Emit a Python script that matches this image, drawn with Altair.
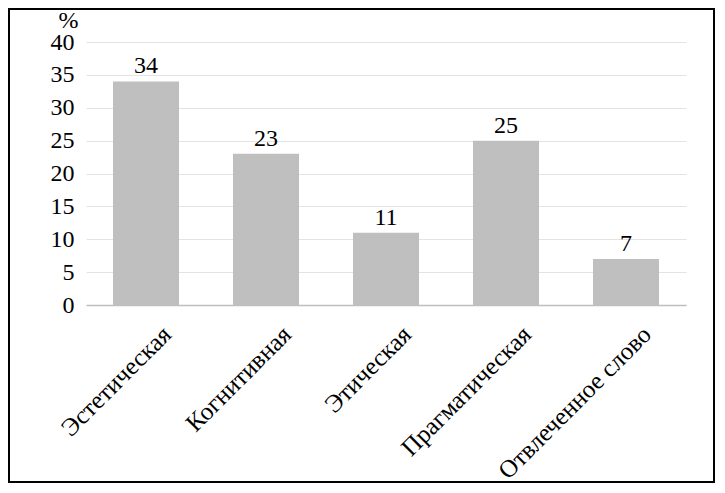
import altair as alt
import pandas as pd

categories = ["Эстетическая", "Когнитивная", "Этическая", "Прагматическая", "Отвлеченное слово"]
values = [34, 23, 11, 25, 7]
y_ticks = [0, 5, 10, 15, 20, 25, 30, 35, 40]

df = pd.DataFrame({"cat": categories, "val": values})
FONT = "Liberation Serif"
FS = 24

W, H = 600, 263
PL, PT, PR, PB = 78, 34, 29, 178

base = alt.Chart(df).encode(
    x=alt.X("cat:N", sort=categories, title=None,
            scale=alt.Scale(paddingInner=0.45, paddingOuter=0.225),
            axis=alt.Axis(labelAngle=-45, labelAlign="right", labelBaseline="middle",
                          labelPadding=25, labelOffset=21, ticks=False,
                          domainColor="#bfbfbf", domainWidth=1.5, labelLimit=400,
                          labelOverlap=False, grid=False,
                          labelFont=FONT, labelFontSize=25, labelColor="black")),
    y=alt.Y("val:Q", scale=alt.Scale(domain=[0, 40]), title="%",
            axis=alt.Axis(values=y_ticks, ticks=False, domain=False,
                          labelPadding=12, gridColor="#e3e3e3", gridWidth=1,
                          labelOverlap=False,
                          labelFont=FONT, labelFontSize=FS, labelColor="black",
                          titleFont=FONT, titleFontSize=FS, titleFontWeight="normal",
                          titleColor="black",
                          titleAngle=0, titleX=-18, titleY=-15, titleAlign="center",
                          titleBaseline="alphabetic")),
)

bars = base.mark_bar(color="#bfbfbf")

labels = base.mark_text(font=FONT, fontSize=FS, color="black", dy=-3, baseline="bottom").encode(
    text=alt.Text("val:Q"),
)

border = alt.Chart(alt.Data(values=[{"a": 1}])).mark_rect(
    fill=None, stroke="black", strokeWidth=2
).encode(
    x=alt.value(-PL + 1), x2=alt.value(W + PR - 1),
    y=alt.value(-PT + 1), y2=alt.value(H + PB - 1),
)

chart = alt.layer(bars, labels, border).properties(
    width=W, height=H,
    background="white",
    autosize=alt.AutoSizeParams(type="none"),
    padding={"left": PL, "top": PT, "right": PR, "bottom": PB},
).configure_view(
    strokeWidth=0
).configure_axis(
    labelFont=FONT, labelColor="black",
    titleFont=FONT, titleFontWeight="normal", titleColor="black",
)

chart.save("out.html", embed_options={"renderer": "svg", "actions": False})
